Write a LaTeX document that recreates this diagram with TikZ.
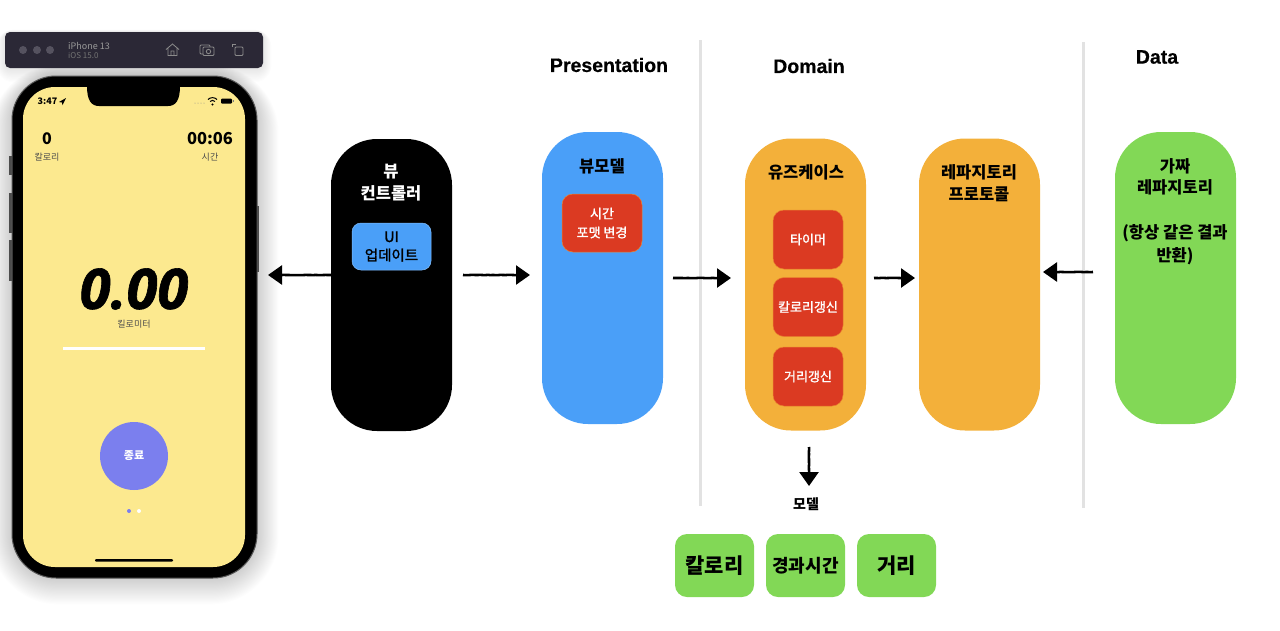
\documentclass[tikz,border=0pt]{standalone}
\usepackage{fontspec}
\usetikzlibrary{arrows.meta,decorations.pathmorphing}
\setmainfont{Noto Sans CJK KR}
\newfontfamily\med[FakeBold=1.5]{Noto Sans CJK KR}
\newfontfamily\hv[FakeBold=.5]{Liberation Sans}
\newfontfamily\bigit[FakeBold=1.1]{Open Sans}
\definecolor{cblue}{HTML}{4A9FF8}
\definecolor{corange}{HTML}{F3B03A}
\definecolor{cgreen}{HTML}{82D856}
\definecolor{cred}{HTML}{DB3A22}
\definecolor{cyellow}{HTML}{FCE98F}
\definecolor{cbar}{HTML}{2B2836}
\definecolor{cdot}{HTML}{55525F}
\definecolor{cpurple}{HTML}{7B7FEE}
\definecolor{cdiv}{HTML}{E2E2E2}
\pgfmathsetseed{7}
\tikzset{
  x=1pt,y=-1pt,
  panel/.style={minimum width=121pt,minimum height=292pt,rounded corners=46pt,inner sep=0pt,outer sep=0pt},
  redbox/.style={fill=cred,draw=corange!60!cred,line width=.5pt,rounded corners=11pt,inner sep=0pt,outer sep=0pt},
  greenbox/.style={fill=cgreen,minimum width=79pt,minimum height=63pt,rounded corners=12pt,inner sep=0pt,outer sep=0pt},
  lab/.style={inner sep=0pt,font=\fontsize{16.5}{20}\selectfont\bfseries,align=center},
  sm/.style={inner sep=0pt,text=black!70,font=\fontsize{9}{11}\selectfont},
  flow/.style={line width=2.6pt,black,-{Triangle[length=14pt,width=19pt]},
    decorate,decoration={random steps,segment length=2.5pt,amplitude=.18pt,post=lineto,post length=3pt}},
  divider/.style={cdiv,line width=3pt},
  icon/.style={draw=black!45,line width=.8pt,fill=none},
}
\begin{document}
\begin{tikzpicture}
\useasboundingbox (0,0) rectangle (1280,630);
% shadows
\foreach \g in {1,...,24}{
  \fill[black,opacity=.006,rounded corners=\g pt+44pt] (12-\g*.9,76-\g*.45) rectangle (257+\g*.9,578+\g*1.1);
}
\foreach \g in {1,...,12}{
  \fill[black,opacity=.009,rounded corners=\g pt+5pt] (5-\g*.7,32-\g*.2) rectangle (263+\g*.7,68+\g*1.2);
}
% phone
\fill[black!70] (9,156) rectangle (13,175);
\fill[black!70] (9,193) rectangle (13,233);
\fill[black!70] (9,240) rectangle (13,281);
\fill[black!70] (256,206) rectangle (259,272);
\node[draw=black!65,line width=1pt,fill=black,minimum width=245pt,minimum height=502pt,rounded corners=44pt,inner sep=0pt,outer sep=0pt] (phone) at (134.5,327) {};
\node[fill=cyellow,minimum width=222pt,minimum height=480pt,rounded corners=32pt,inner sep=0pt,outer sep=0pt] (screen) at (134,327) {};
\fill[black] (87,86) -- (180,86) .. controls (180,100) and (176,106) .. (168,106) -- (99,106) .. controls (91,106) and (87,100) .. (87,86) -- cycle;
\node[inner sep=0pt,font=\fontsize{9}{11}\selectfont\bfseries] (clock) at (47.5,101) {3:47};
\fill[black] (66,98) -- (59,102) -- (62,102.5) -- (62.5,105) -- cycle;
\foreach \px in {195,198,201,204}{\fill[black!45] (\px,103) circle (.5);}
\draw[black,line width=1pt] (208,99.5) .. controls (210.5,97) and (214.5,97) .. (217,99.5);
\draw[black,line width=1pt] (210,101.5) .. controls (211.5,100) and (213.5,100) .. (215,101.5);
\fill[black] (212.5,104.5) circle (1.2);
\fill[black,rounded corners=1pt] (221,98.5) rectangle (232,103.5);
\fill[black!50] (233,100) rectangle (234,102);
\node[inner sep=0pt,font=\fontsize{16}{20}\selectfont\bfseries] (cal) at (47,139) {0};
\node[sm] (callab) at (47,157) {칼로리};
\node[inner sep=0pt,font=\fontsize{16.5}{20}\selectfont\bfseries] (tm) at (210,139) {00:06};
\node[sm] (tmlab) at (210,157) {시간};
\node[inner sep=0pt,font=\bigit\fontsize{56}{60}\selectfont\bfseries\itshape] (dist) at (134,289) {0.00};
\node[sm] (km) at (134,324) {킬로미터};
\fill[white] (63,347) rectangle (205,350);
\node[circle,fill=cpurple,minimum size=68pt,inner sep=0pt,text=white,font=\fontsize{11}{13}\selectfont\bfseries] (stop) at (134,456) {종료};
\fill[cpurple] (129,511) circle (2);
\fill[white] (139,511) circle (2);
\fill[black,rounded corners=1pt] (95,559) rectangle (173,561.5);
% toolbar
\fill[cbar,rounded corners=5pt] (5,32) rectangle (263,68);
\foreach \dx in {23,37,50}{\fill[cdot] (\dx,50) circle (4);}
\node[anchor=west,inner sep=0pt,text=black!40,font=\fontsize{9}{11}\selectfont] (dev) at (68,45.5) {iPhone 13};
\node[anchor=west,inner sep=0pt,text=black!55,font=\fontsize{8}{10}\selectfont] (ios) at (68,55.5) {iOS 15.0};
\draw[icon] (166,49.5) -- (172.5,44) -- (179,49.5) (168,48) -- (168,55.5) -- (177,55.5) -- (177,48) (171,55.5) -- (171,51) -- (174,51) -- (174,55.5);
\draw[icon,rounded corners=1pt] (200,45) rectangle (210,54);
\draw[icon,rounded corners=1pt,fill=cbar] (203,47) rectangle (214,55.5);
\draw[icon] (208.5,51.5) circle (2.2);
\draw[icon,rounded corners=1pt] (235,47) rectangle (243,55.5);
\draw[icon] (232,47) -- (232,44.5) -- (236,44.5);
% dividers
\draw[divider] (700.5,40) -- (700.5,506);
\draw[divider] (1083.5,42) -- (1083.5,508);
% headings
\node[inner sep=0pt,font=\hv\fontsize{19.5}{22}\selectfont\bfseries] (hp) at (609,65) {Presentation};
\node[inner sep=0pt,font=\hv\fontsize{19.5}{22}\selectfont\bfseries] (hd) at (809,66) {Domain};
\node[inner sep=0pt,font=\hv\fontsize{19.5}{22}\selectfont\bfseries] (hda) at (1157,57) {Data};
% panels
\node[panel,fill=black] (vc) at (391.5,285) {};
\node[panel,fill=cblue] (vm) at (602.5,278) {};
\node[panel,fill=corange] (uc) at (805.5,284.5) {};
\node[panel,fill=corange] (repo) at (979.5,284.5) {};
\node[panel,fill=cgreen] (fake) at (1175.5,278) {};
% panel titles
\node[lab,text=white] (vct) at (391,183) {뷰\\[2pt]컨트롤러};
\node[lab] (vmt) at (602,166) {뷰모델};
\node[lab] (uct) at (806,172) {유즈케이스};
\node[lab] (repot) at (979,183) {레파지토리\\[2pt]프로토콜};
\node[lab] (faket) at (1175,212) {가짜\\[1pt]레파지토리\\[1pt]\\[4pt](항상 같은 결과\\[3pt]반환)};
% inner boxes
\node[fill=cblue,draw=cblue!70!white,line width=.5pt,minimum width=79pt,minimum height=47pt,rounded corners=9pt,inner sep=0pt,outer sep=0pt,align=center,font=\med\fontsize{14.5}{18.5}\selectfont] (ui) at (391.5,246.5) {UI\\업데이트};
\node[redbox,minimum width=80pt,minimum height=58pt,text=white,align=center,font=\med\fontsize{13}{19}\selectfont] (fmt) at (602,223) {시간\\포맷 변경};
\node[redbox,minimum width=70pt,minimum height=59pt,text=white,font=\med\fontsize{13}{16}\selectfont] (t1) at (808,239.5) {타이머};
\node[redbox,minimum width=70pt,minimum height=59pt,text=white,font=\med\fontsize{13}{16}\selectfont] (t2) at (808,307) {칼로리갱신};
\node[redbox,minimum width=70pt,minimum height=59pt,text=white,font=\med\fontsize{13}{16}\selectfont] (t3) at (808,376.5) {거리갱신};
% model
\node[inner sep=0pt,font=\fontsize{14}{17}\selectfont\bfseries] (model) at (806,504) {모델};
\node[greenbox,font=\fontsize{21}{25}\selectfont\bfseries] (g1) at (714.5,565.5) {\raisebox{1pt}{칼로리}};
\node[greenbox,font=\fontsize{18}{22}\selectfont\bfseries] (g2) at (805.5,565.5) {\raisebox{1pt}{경과시간}};
\node[greenbox,font=\fontsize{21}{25}\selectfont\bfseries] (g3) at (896.5,565.5) {\raisebox{1pt}{거리}};
% connectors
\coordinate (a1e) at (268,275);
\coordinate (a2s) at (463,275);
\coordinate (a2e) at (530,275);
\coordinate (a3s) at (673,278);
\coordinate (a3e) at (731,278);
\coordinate (a4s) at (874,278);
\coordinate (a4e) at (915,278);
\coordinate (a5s) at (1093,272);
\coordinate (a5e) at (1043,272);
\coordinate (a6s) at (809,447);
\coordinate (a6e) at (809,486);
\draw[flow] (vc.west |- a1e) -- (a1e);
\draw[flow] (a2s) -- (a2e);
\draw[flow] (a3s) -- (a3e);
\draw[flow] (a4s) -- (a4e);
\draw[flow] (a5s) -- (a5e);
\draw[flow] (a6s) -- (a6e);
\end{tikzpicture}
\end{document}
